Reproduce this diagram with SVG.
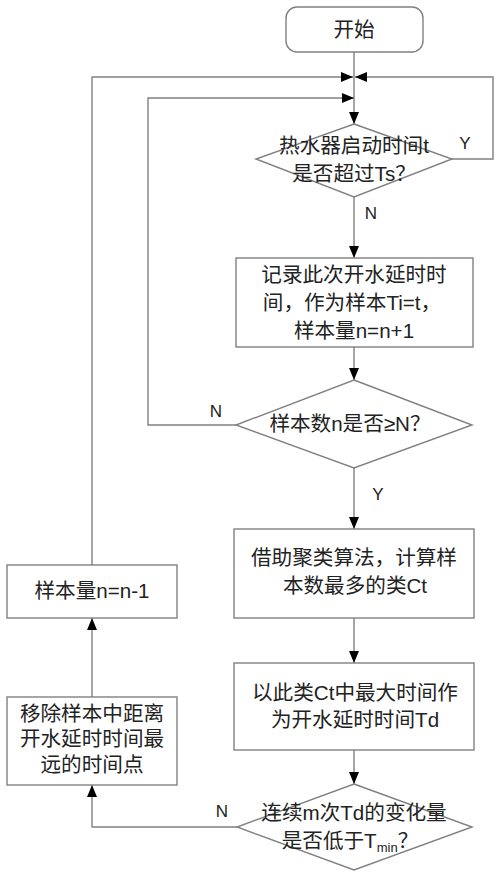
<svg xmlns="http://www.w3.org/2000/svg" width="500" height="872" viewBox="0 0 500 872">
<style>
.n{fill:#fff;stroke:#808080;stroke-width:1.4}
.c{fill:none;stroke:#808080;stroke-width:1.4}
.t{font-family:"Liberation Sans","Noto Sans CJK SC",sans-serif;font-size:20.6px;fill:#222;text-anchor:middle}
.l{font-family:"Liberation Sans","Noto Sans CJK SC",sans-serif;font-size:17px;fill:#222;text-anchor:middle}
</style>
<defs>
<marker id="a" viewBox="0 0 12 10" refX="12" refY="5" markerWidth="12" markerHeight="10" markerUnits="userSpaceOnUse" orient="auto">
<path d="M0,0 L12,5 L0,10 z" fill="#000"/>
</marker>
</defs>
<rect width="500" height="872" fill="#fff"/>
<g id="connectors">
<path class="c" d="M354,52 V124" marker-end="url(#a)"/>
<path class="c" d="M452,159 H493 V77 H355" marker-end="url(#a)"/>
<path class="c" d="M92,565 V77 H353" marker-end="url(#a)"/>
<path class="c" d="M236,425 H148 V98 H354" marker-end="url(#a)"/>
<path class="c" d="M354,197 V258" marker-end="url(#a)"/>
<path class="c" d="M354,347 V380" marker-end="url(#a)"/>
<path class="c" d="M354,468 V529" marker-end="url(#a)"/>
<path class="c" d="M354,618 V663" marker-end="url(#a)"/>
<path class="c" d="M354,750 V784" marker-end="url(#a)"/>
<path class="c" d="M237,827 H92 V785" marker-end="url(#a)"/>
<path class="c" d="M92,697 V618" marker-end="url(#a)"/>
<text class="l" x="465" y="149">Y</text>
<text class="l" x="371" y="219">N</text>
<text class="l" x="216" y="417">N</text>
<text class="l" x="378" y="500">Y</text>
<text class="l" x="222" y="817">N</text>
</g>
<g id="start">
<rect class="n" x="286" y="7" width="137" height="45" rx="11"/>
<text class="t" x="354" y="37">开始</text>
</g>
<g id="d1">
<path class="n" d="M354,124 L452,159 L354,197 L256,159 z"/>
<text class="t" x="354" y="153">热水器启动时间t</text>
<text class="t" x="354" y="181">是否超过Ts？</text>
</g>
<g id="box2">
<rect class="n" x="236" y="258" width="237" height="89"/>
<text class="t" x="354" y="282">记录此次开水延时时</text>
<text class="t" x="352" y="310">间，作为样本Ti=t，</text>
<text class="t" x="354" y="338">样本量n=n+1</text>
</g>
<g id="d2">
<path class="n" d="M354,380 L472,425 L354,468 L236,425 z"/>
<text class="t" x="350" y="431">样本数n是否≥N？</text>
</g>
<g id="box3">
<rect class="n" x="234" y="529" width="240" height="89"/>
<text class="t" x="354" y="565">借助聚类算法，计算样</text>
<text class="t" x="355" y="593">本数最多的类Ct</text>
</g>
<g id="box4">
<rect class="n" x="234" y="663" width="240" height="87"/>
<text class="t" x="355" y="700">以此类Ct中最大时间作</text>
<text class="t" x="355" y="727">为开水延时时间Td</text>
</g>
<g id="d3">
<path class="n" d="M354,784 L472,827 L354,870 L237,827 z"/>
<text class="t" x="354" y="820">连续m次Td的变化量</text>
<text class="t" x="350" y="848">是否低于T<tspan font-size="13" dy="4">min</tspan><tspan dy="-4">？</tspan></text>
</g>
<g id="box5">
<rect class="n" x="7" y="697" width="170" height="88"/>
<text class="t" x="92" y="721">移除样本中距离</text>
<text class="t" x="92" y="746">开水延时时间最</text>
<text class="t" x="92" y="772">远的时间点</text>
</g>
<g id="box6">
<rect class="n" x="7" y="565" width="170" height="53"/>
<text class="t" x="92" y="598">样本量n=n-1</text>
</g>
</svg>
